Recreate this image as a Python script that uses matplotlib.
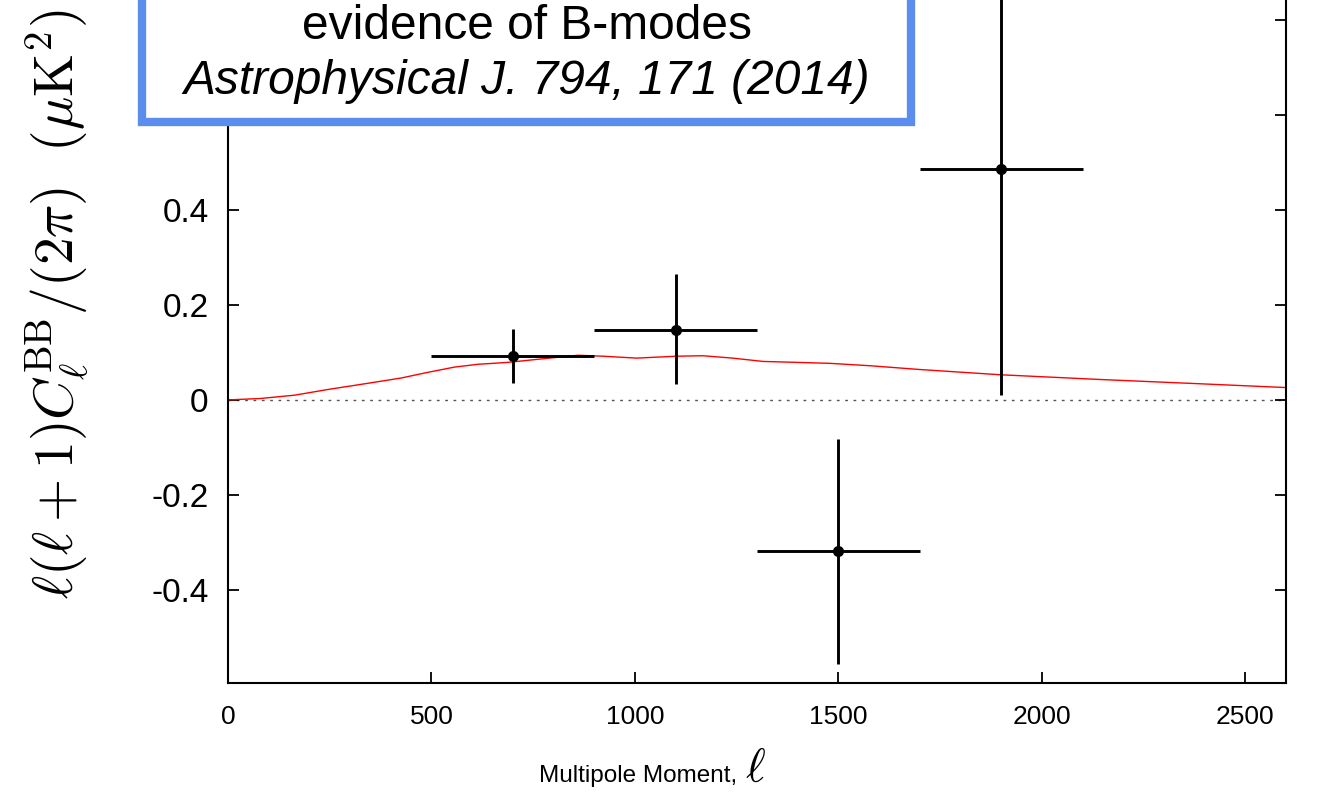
import matplotlib
matplotlib.use("Agg")
import matplotlib.pyplot as plt
from matplotlib.patches import Rectangle

# --- Datos ---
# bandas de potencia BB (multipolo central, semiancho de banda, valor, error)
ell_bandas = [700, 1100, 1500, 1900]
ell_semiancho = [200, 200, 200, 200]
dl_bb = [0.093, 0.148, -0.318, 0.487]
dl_err_inf = [0.057, 0.115, 0.237, 0.477]
dl_err_sup = [0.057, 0.117, 0.235, 0.477]

# espectro teórico de lensing (curva roja)
ell_teoria = [0, 80, 164, 246, 344, 425, 491, 556, 614, 688, 778, 860, 922, 1004,
              1102, 1167, 1240, 1315, 1400, 1479, 1577, 1700, 1897, 2143, 2388, 2600]
dl_teoria = [0.0, 0.003, 0.010, 0.022, 0.035, 0.046, 0.058, 0.069, 0.075, 0.079,
             0.087, 0.094, 0.092, 0.088, 0.092, 0.093, 0.088, 0.081, 0.079, 0.077,
             0.072, 0.064, 0.053, 0.043, 0.034, 0.026]

x_ticks = [0, 500, 1000, 1500, 2000, 2500]
y_ticks = [-0.4, -0.2, 0, 0.2, 0.4, 0.6, 0.8]
# las etiquetas 0.6 y 0.8 quedan tapadas por el recuadro
y_tick_labels = ["-0.4", "-0.2", "0", "0.2", "0.4", "", ""]

titulo_lineas = ["evidence of B-modes", "Astrophysical J. 794, 171 (2014)"]

plt.rcParams['font.family'] = ['Liberation Sans', 'DejaVu Sans']
plt.rcParams['mathtext.fontset'] = 'cm'

fig = plt.figure(figsize=(13.17, 7.95), dpi=100)
ax = fig.add_axes([0.1731, 0.1409, 0.8034, 0.9535])

ax.plot(ell_teoria, dl_teoria, color='red', lw=1.0, zorder=2)
ax.axhline(0, color='#555555', lw=1.0, linestyle=(0, (2, 4)), zorder=1)
ax.errorbar(ell_bandas, dl_bb, xerr=ell_semiancho, yerr=[dl_err_inf, dl_err_sup],
            fmt='o', color='black', ms=7, elinewidth=2.1, capsize=0, zorder=3)

ax.set_xlim(0, 2600)
ax.set_ylim(-0.596, 1.0)
ax.set_xticks(x_ticks)
ax.set_yticks(y_ticks)
ax.set_yticklabels(y_tick_labels)
for s in ax.spines.values():
    s.set_linewidth(1.5)
ax.tick_params(direction='in', length=8, width=1.3, right=True, top=True)
ax.tick_params(axis='x', labelsize=19, pad=16)
ax.tick_params(axis='y', labelsize=24, pad=14)

fig.text(0.5596, 0.0164, "Multipole Moment,", fontsize=17.5, ha='right', va='baseline')
fig.text(0.5657, 0.0164, r"$\ell$", fontsize=34, ha='left', va='baseline')
fig.text(0.044, 0.246, r"$\ell(\ell+1)C_\ell^{\rm BB}/(2\pi)\ \ (\mu{\rm K}^2)$",
         fontsize=40, rotation=90, ha='center', va='bottom')

# recuadro azul con la referencia
caja = Rectangle((0.1078, 0.8465), 0.5839, 0.4, transform=fig.transFigure,
                 facecolor='white', edgecolor='#5B8DEE', lw=6, zorder=5)
fig.add_artist(caja)
fig.text(0.400, 0.967, titulo_lineas[0], fontsize=34.5, ha='center', va='center', zorder=6)
fig.text(0.400, 0.898, titulo_lineas[1], fontsize=34.5, style='italic',
         ha='center', va='center', zorder=6)

fig.savefig("out.png", dpi=100)
